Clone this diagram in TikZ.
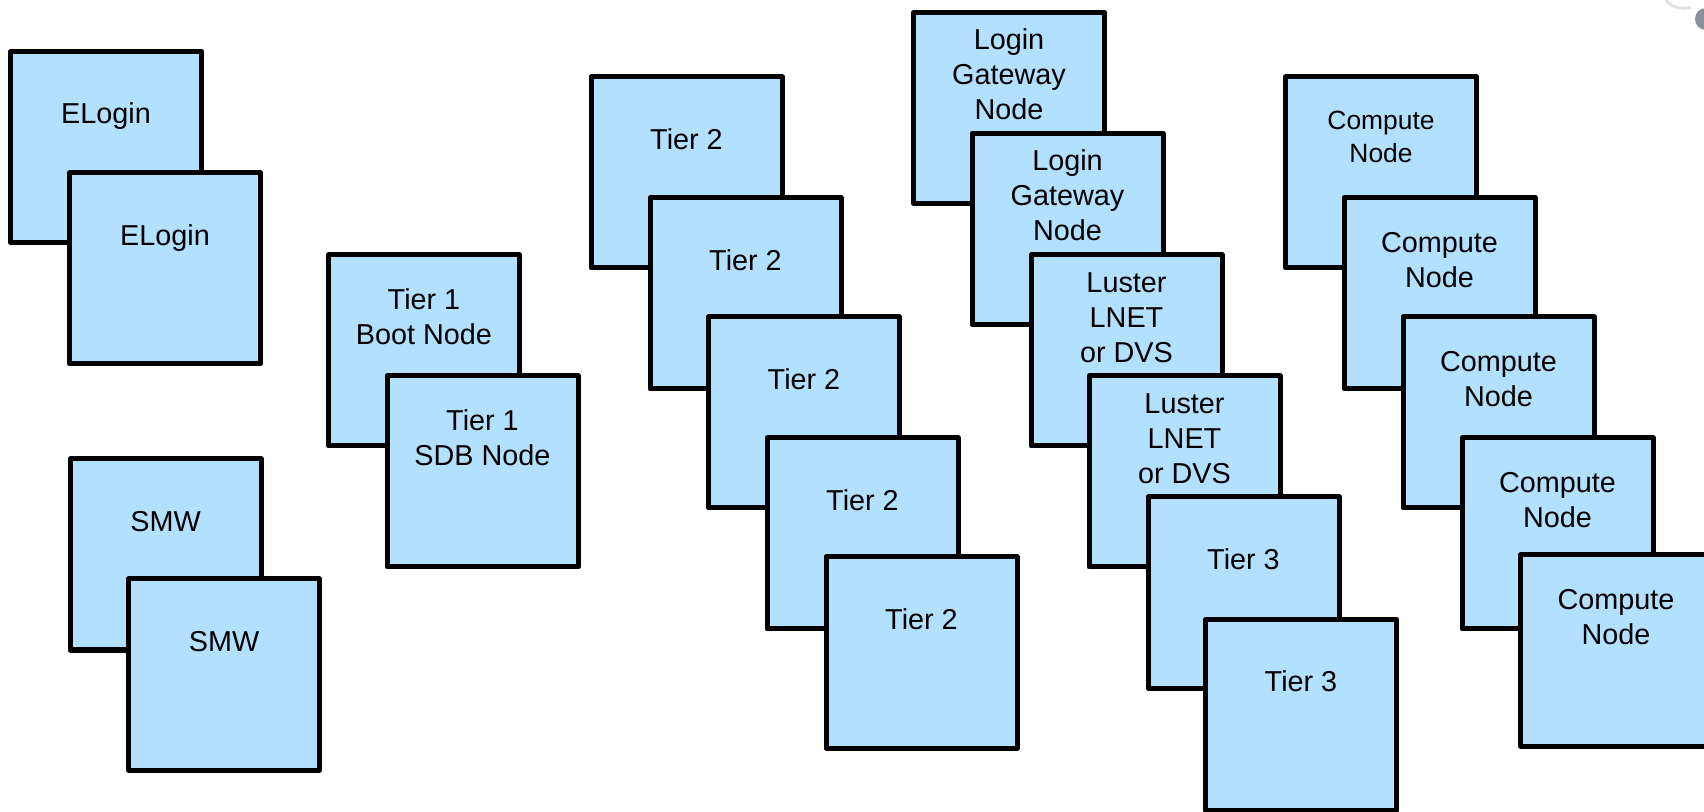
\documentclass[tikz,border=0pt]{standalone}
\usepackage{fontspec}
\setmainfont{Liberation Sans}
\definecolor{boxfill}{RGB}{180,224,255}
\definecolor{uigray}{RGB}{138,143,153}
\definecolor{uilight}{RGB}{225,225,228}
\tikzset{
  nodebox/.style={draw=black, fill=boxfill, line width=2.5pt, minimum width=95.5pt,
    minimum height=95.5pt, inner sep=0pt, outer sep=0pt, anchor=north west, line join=round},
  lbl/.style={anchor=base, inner sep=0pt, font=\fontsize{14.4}{17.5}\selectfont},
  lblsmall/.style={anchor=base, inner sep=0pt, font=\fontsize{13.2}{16.3}\selectfont},
}
% name, x, y, number of lines, text
\newcommand\drawnodebox[5]{%
  \node[nodebox] (#1) at (#2,#3) {};
  \node[lbl] (#1t) at ([yshift={-(36.15pt-(#4-1)*8.75pt)}]#1.north)
    {\begin{tabular}[t]{@{}c@{}}#5\end{tabular}};
}
\begin{document}
\begin{tikzpicture}[x=0.5pt, y=-0.5pt]
\useasboundingbox (0,0) rectangle (1704,812);
\begin{scope}
\clip (0,0) rectangle (1704,812);
% ELogin
\drawnodebox{el1}{10.5}{51.5}{1}{ELogin}
\drawnodebox{el2}{69.5}{173}{1}{ELogin}
% SMW
\drawnodebox{smw1}{70}{459}{1}{SMW}
\drawnodebox{smw2}{128.5}{579}{1}{SMW}
% Tier 1
\drawnodebox{boot}{328.5}{255}{2}{Tier 1\\Boot Node}
\drawnodebox{sdb}{387}{376}{2}{Tier 1\\SDB Node}
% Tier 2
\drawnodebox{tta}{591}{77}{1}{Tier 2}
\drawnodebox{ttb}{650}{198}{1}{Tier 2}
\drawnodebox{ttc}{708.5}{317}{1}{Tier 2}
\drawnodebox{ttd}{767}{438}{1}{Tier 2}
\drawnodebox{tte}{826}{557}{1}{Tier 2}
% Login gateway / Luster / Tier 3
\drawnodebox{gw1}{913.5}{12.5}{3}{Login\\Gateway\\Node}
\drawnodebox{gw2}{972}{133.5}{3}{Login\\Gateway\\Node}
\drawnodebox{lu1}{1031}{255}{3}{Luster\\LNET\\or DVS}
\drawnodebox{lu2}{1089}{376}{3}{Luster\\LNET\\or DVS}
\drawnodebox{tha}{1148}{497}{1}{Tier 3}
\drawnodebox{thb}{1205.5}{619.5}{1}{Tier 3}
% Compute
\node[nodebox] (c1) at (1285.5,77) {};
\node[lblsmall] (c1t) at ([yshift=-26.5pt]c1.north)
  {\begin{tabular}[t]{@{}c@{}}Compute\\Node\end{tabular}};
\drawnodebox{c2}{1344}{197.5}{2}{Compute\\Node}
\drawnodebox{c3}{1403}{317}{2}{Compute\\Node}
\drawnodebox{c4}{1462}{438}{2}{Compute\\Node}
\drawnodebox{c5}{1520.5}{555}{2}{Compute\\Node}
% UI remnants at the top right corner
\draw[uilight, line width=1.5pt] (1666,0) .. controls (1672,8) and (1682,10) .. (1691,7);
\fill[uigray] (1706,19) circle [radius=11];
\end{scope}
\end{tikzpicture}
\end{document}
